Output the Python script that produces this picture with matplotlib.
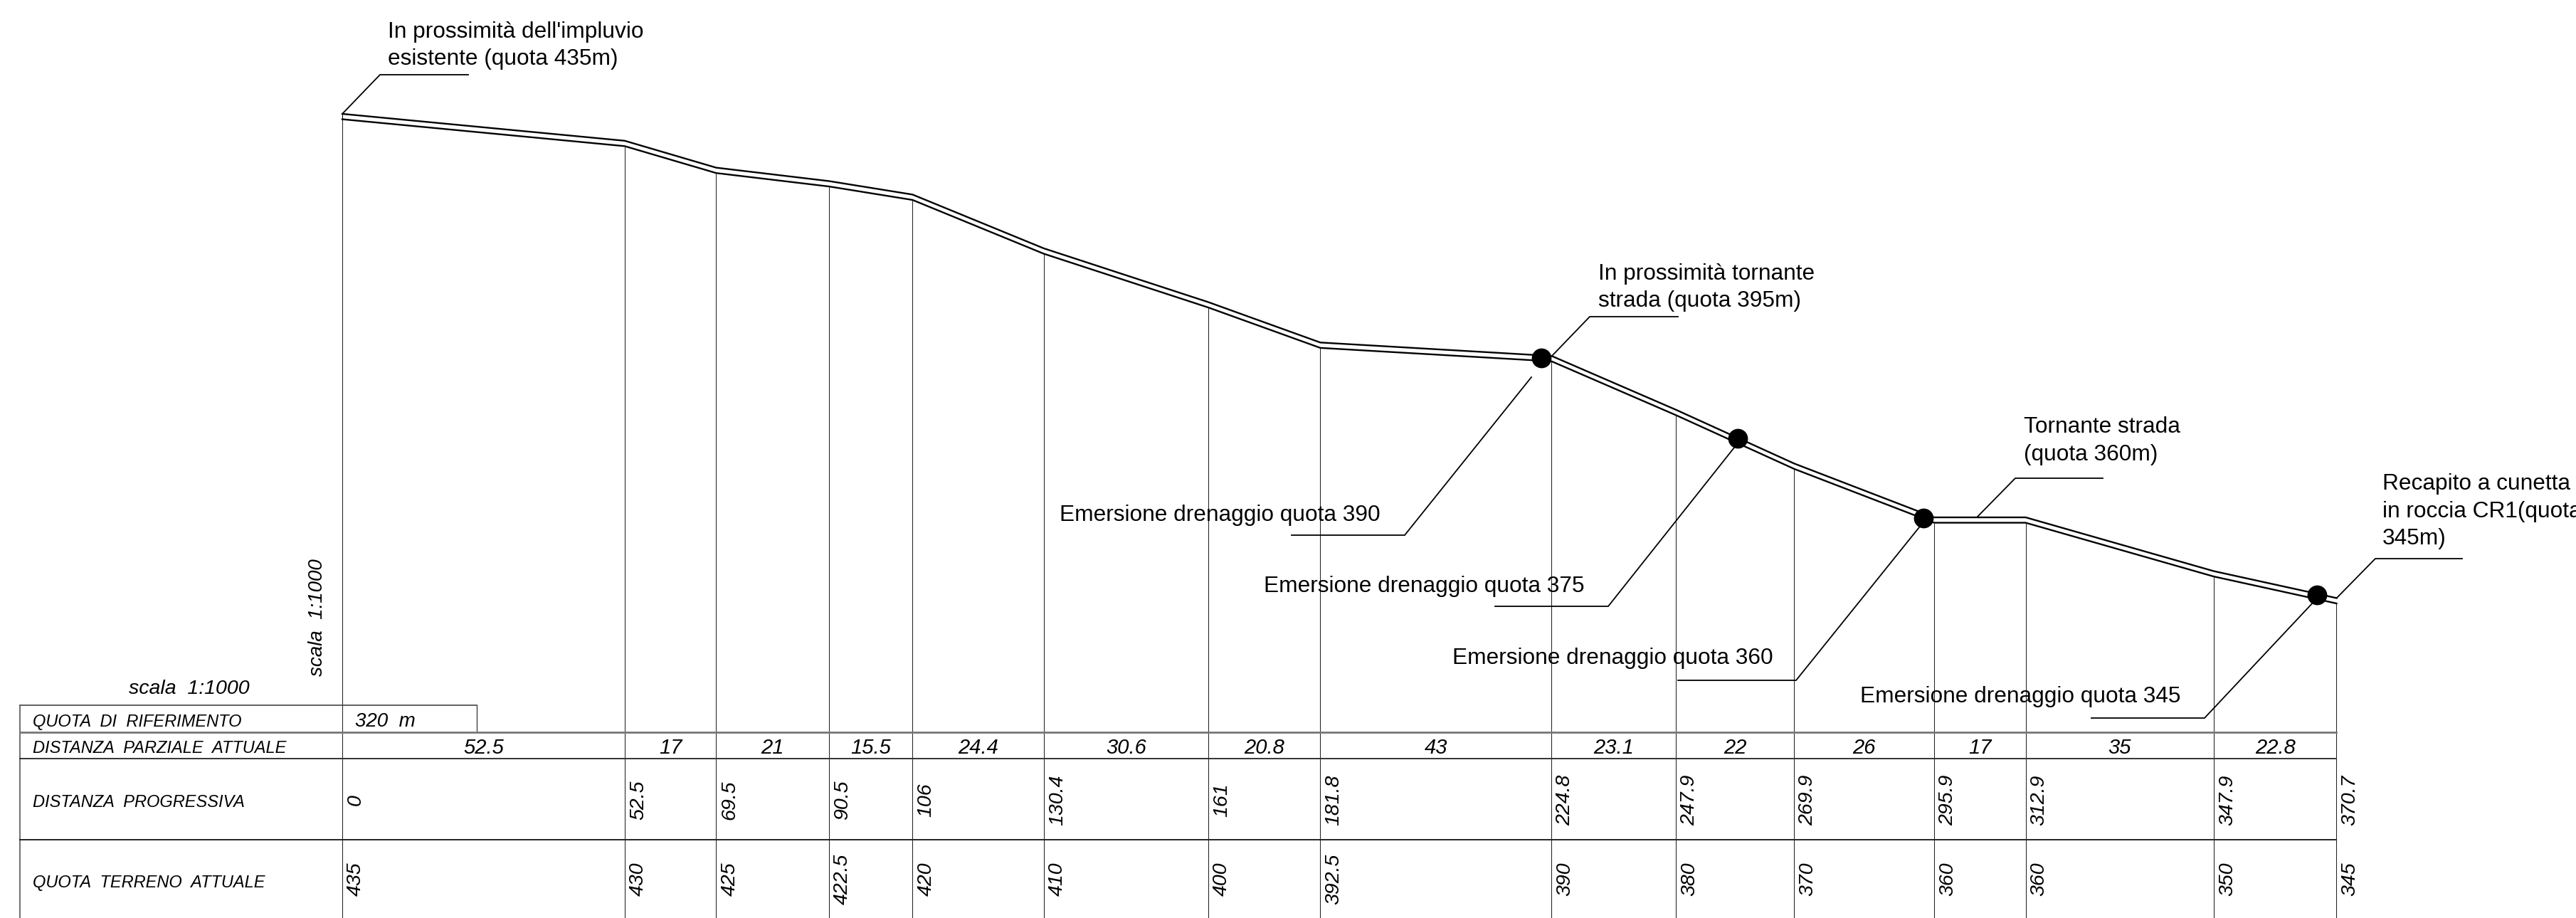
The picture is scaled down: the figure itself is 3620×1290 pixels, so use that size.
import numpy as np
import matplotlib
matplotlib.use("Agg")
import matplotlib.pyplot as plt
import matplotlib.transforms as mtrans

# ==============================
# Data
# ==============================

dist_prog = [0, 52.5, 69.5, 90.5, 106, 130.4, 161, 181.8, 224.8, 247.9, 269.9, 295.9, 312.9, 347.9, 370.7]
quota = [435, 430, 425, 422.5, 420, 410, 400, 392.5, 390, 380, 370, 360, 360, 350, 345]
dist_parz = [52.5, 17, 21, 15.5, 24.4, 30.6, 20.8, 43, 23.1, 22, 26, 17, 35, 22.8]

emersione_dist = [222.9, 259.4, 293.9, 367.0]
emersione_quota = [389.6, 374.7, 359.9, 345.6]

row_labels = ["QUOTA  DI  RIFERIMENTO", "DISTANZA  PARZIALE  ATTUALE",
              "DISTANZA  PROGRESSIVA", "QUOTA  TERRENO  ATTUALE"]

callouts = [
    "In prossimità dell'impluvio\nesistente (quota 435m)",
    "In prossimità tornante\nstrada (quota 395m)",
    "Tornante strada\n(quota 360m)",
    "Recapito a cunetta\nin roccia CR1(quota\n345m)",
    "Emersione drenaggio quota 390",
    "Emersione drenaggio quota 375",
    "Emersione drenaggio quota 360",
    "Emersione drenaggio quota 345",
]

# ==============================
# Layout (pixels of the image)
# ==============================

W, H = 3620, 1290
PX_PER_M = 7.56
X0, Y0 = 481, 160  # where distance 0 / quota 435 fall

# text x, text y (centre of first line), leader polyline
callout_pos = [
    (545, 45, [(481, 160), (534, 105), (658, 105)]),
    (2246, 385, [(2182, 499), (2234, 445), (2358, 445)]),
    (2844, 600, [(2779, 726), (2832, 672), (2955, 672)]),
    (3348, 680, [(3284, 840), (3338, 785), (3460, 785)]),
    (1489, 724, [(2152, 530), (1974, 752), (1815, 752)]),
    (1776, 824, [(2437, 629), (2260, 852), (2101, 852)]),
    (2041, 925, [(2701, 736), (2524, 956), (2358, 956)]),
    (2614, 979, [(3252, 845), (3098, 1009), (2939, 1009)]),
]

ROW_TOP, ROW_A, ROW_B, ROW_C = 991, 1029, 1066, 1180
TABLE_LEFT, BOX_RIGHT = 28, 670

SANS = ["Liberation Sans", "DejaVu Sans"]

# ==============================
# Figure
# ==============================

fig = plt.figure(figsize=(W / 100, H / 100), dpi=100)
ax = fig.add_axes([0, 0, 1, 1])
ax.set_xlim(-X0 / PX_PER_M, (W - X0) / PX_PER_M)
ax.set_ylim(435 - (H - Y0) / PX_PER_M, 435 + Y0 / PX_PER_M)
ax.axis("off")

# pixel coordinates, y going down
px = mtrans.Affine2D().scale(1, -1).translate(0, H)
x_data_y_px = mtrans.blended_transform_factory(ax.transData, px)

dist = np.array(dist_prog)
q = np.array(quota)

# terrain, double line one metre apart
ax.plot(dist, q, color="black", lw=1.7, solid_joinstyle="miter")
ax.plot(dist, q - 1, color="black", lw=1.7, solid_joinstyle="miter")

# verticals from the profile down to the bottom of the table
ax.vlines(dist, ax.get_ylim()[0], q - 1, color="#222222", lw=0.75)
ax.plot([dist[0], dist[0]], [q[0], q[0] - 1], color="black", lw=0.75)

# drainage points
ax.scatter(emersione_dist, emersione_quota, s=400, color="black", zorder=5, linewidths=0)

# table rules
ax.plot([TABLE_LEFT, BOX_RIGHT], [ROW_TOP, ROW_TOP], transform=px, color="#444444", lw=1.2)
ax.plot([BOX_RIGHT, BOX_RIGHT], [ROW_TOP, ROW_A], transform=px, color="#444444", lw=1.0)
ax.plot([TABLE_LEFT, TABLE_LEFT], [ROW_TOP, H], transform=px, color="#555555", lw=1.2)
right = X0 + dist[-1] * PX_PER_M
ax.plot([TABLE_LEFT, right], [ROW_A, ROW_A], transform=px, color="#777777", lw=2.0)
ax.plot([TABLE_LEFT, right], [ROW_B, ROW_B], transform=px, color="#333333", lw=1.4)
ax.plot([TABLE_LEFT, right], [ROW_C, ROW_C], transform=px, color="#222222", lw=1.4)

# row headings
for label, y in zip(row_labels, [1014, 1051, 1127, 1240]):
    ax.text(46, y, label, transform=px, family=SANS, style="italic", fontsize=17, ha="left", va="center")

ax.text(181, 968, "scala  1:1000", transform=px, family=SANS, style="italic", fontsize=20.5, ha="left", va="center")
ax.text(446, 868, "scala  1:1000", transform=px, family=SANS, style="italic", fontsize=20, rotation=90, ha="center", va="center")
ax.text(499, 1014, "320  m", transform=px, family=SANS, style="italic", fontsize=20, ha="left", va="center")

# partial distances, centred in their cell
for d0, d1, v in zip(dist[:-1], dist[1:], dist_parz):
    ax.text((d0 + d1) / 2, 1051, f"{v:g}", transform=x_data_y_px, family=SANS, style="italic",
            fontsize=21, ha="center", va="center")

# rotated values
shift = mtrans.ScaledTranslation(19 / 100, 0, fig.dpi_scale_trans)
for d, q_val in zip(dist_prog, quota):
    ax.text(d, 1124, f"{d:g}", transform=x_data_y_px + shift, family=SANS, style="italic", fontsize=20.5,
            rotation=90, ha="center", va="center")
    ax.text(d, 1235, f"{q_val:g}", transform=x_data_y_px + shift, family=SANS, style="italic", fontsize=20.5,
            rotation=90, ha="center", va="center")

# callouts
for text, (tx, ty, leader) in zip(callouts, callout_pos):
    xs, ys = zip(*leader)
    ax.plot(xs, ys, transform=px, color="black", lw=1.3, solid_joinstyle="miter")
    for i, line in enumerate(text.split("\n")):
        ax.text(tx, ty + i * 38.5, line, transform=px, family=SANS, fontsize=22.8, ha="left", va="center",
                clip_on=False)

fig.savefig("out.png", dpi=100, facecolor="white")
